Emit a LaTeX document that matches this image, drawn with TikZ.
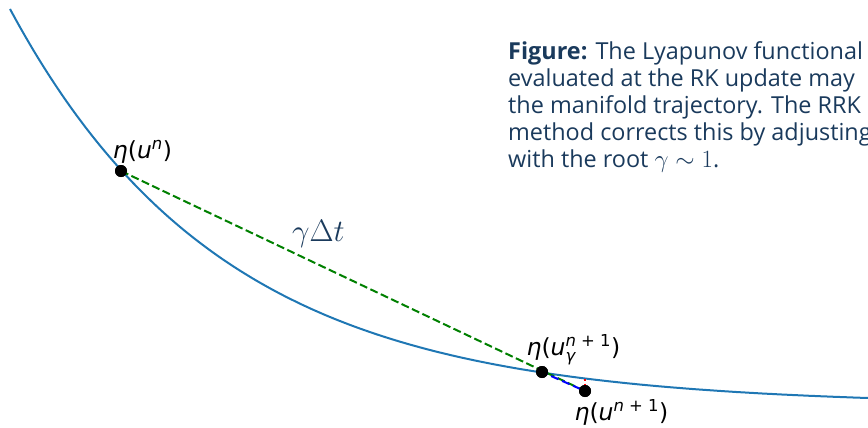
\documentclass[tikz,border=0pt]{standalone}
\usepackage{amsmath}
\usepackage[no-math]{fontspec}
\setmainfont{Open Sans}
\newfontfamily\dv{DejaVu Sans}
\definecolor{navy}{HTML}{1A3A5C}
\definecolor{mplblue}{HTML}{1F77B4}
\definecolor{mplgreen}{HTML}{008000}
\newcommand\lab[1]{{\dv\fontsize{23.5}{23.5}\selectfont #1}}
\begin{document}
\begin{tikzpicture}[x=1pt,y=-1pt,
  dot/.style={circle,fill=black,minimum size=12pt,inner sep=0pt},
  captxt/.style={anchor=base west,inner sep=0pt,text=navy,font=\fontsize{23.4}{27}\selectfont},
  lbl/.style={inner sep=0pt,text=black},
  gdash/.style={mplgreen,line width=2pt,dash pattern=on 8pt off 3.5pt},
  bdash/.style={blue,line width=2pt,dash pattern=on 8pt off 4pt,dash phase=2pt},
  rdot/.style={red,line width=2pt,dash pattern=on 2pt off 3pt}]
\useasboundingbox (0,0) rectangle (868,428);
\draw[mplblue,line width=2pt] plot[domain=10:868,samples=160,smooth] (\x,{405-415*exp(-0.0047*\x)});
\coordinate (c585) at (585,378.5);
\node[dot] (p0) at (121,171) {};
\node[dot] (p1) at (542,372) {};
\node[dot] (p2) at (585,391) {};
\draw[gdash] (p0.center) -- (p2.center);
\draw[bdash] (p1.center) -- (p2.center);
\draw[rdot] (c585) -- (p2.center);
\node[dot] at (p0) {};
\node[dot] at (p1) {};
\node[dot] at (p2) {};
\node[lbl] (l0) at (142.5,152) {\lab{\itshape η\upshape(\itshape u$^{\text{\itshape n}}$\upshape)}};
\node[lbl] (l1) at (573.5,350) {\lab{\itshape η\upshape(\itshape u$^{\text{\itshape n\upshape\ + 1}}_{\text{\itshape γ}}$\upshape)}};
\node[lbl] (l2) at (621.5,412) {\lab{\itshape η\upshape(\itshape u$^{\text{\itshape n\upshape\ + 1}}$\upshape)}};
\node[lbl,text=navy,anchor=base west,font=\fontsize{24.88}{25}\selectfont] (g) at (292,241) {\scalebox{1.25}{$\gamma\Delta t$}};
\node[captxt] (c1) at (508,60) {\textbf{Figure:} The Lyapunov functional};
\node[captxt] (c2) at (508,87) {evaluated at the RK update may};
\node[captxt] (c3) at (508,113.7) {the manifold trajectory. The RRK};
\node[captxt] (c4) at (508,140.3) {method corrects this by adjusting};
\node[captxt] (c5) at (508,167) {with the root $\gamma\sim 1$.};
\end{tikzpicture}
\end{document}
